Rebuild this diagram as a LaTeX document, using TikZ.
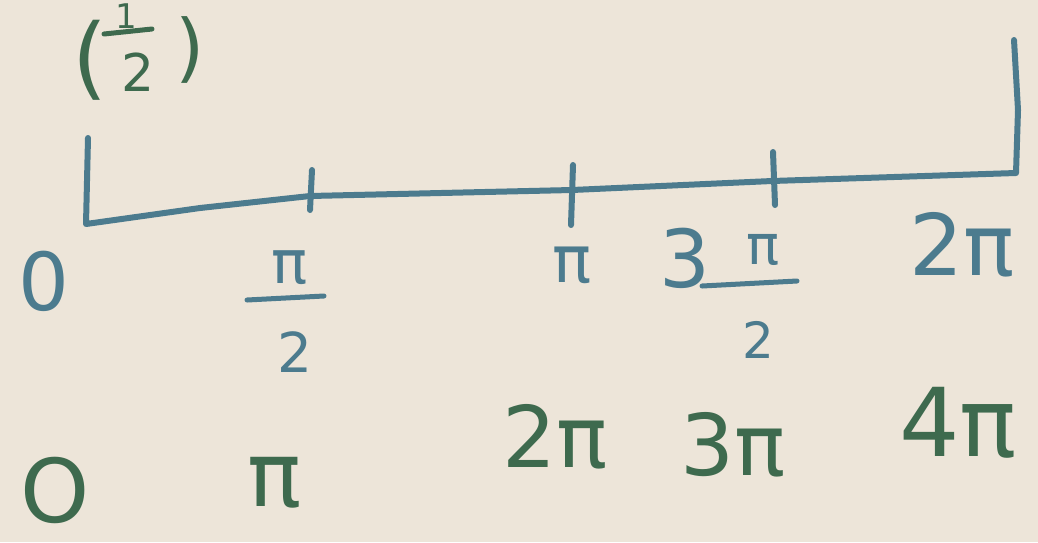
\documentclass[tikz,border=0pt]{standalone}
\usepackage{fontspec}
\setmainfont{DejaVu Sans}
\definecolor{paper}{HTML}{EDE5D9}
\definecolor{bluepen}{HTML}{4C7B8E}
\definecolor{greenpen}{HTML}{3E6A4E}
\tikzset{
  pen/.style={line width=6pt, line cap=round, line join=round},
  bl/.style={text=bluepen, inner sep=0pt},
  gr/.style={text=greenpen, inner sep=0pt},
}
\newcommand{\fs}[1]{\fontsize{#1}{#1}\selectfont}
\begin{document}
\begin{tikzpicture}[x=1pt,y=-1pt]
\fill[paper] (0,0) rectangle (1038,542);
\clip (0,0) rectangle (1038,542);
\useasboundingbox (0,0) rectangle (1038,542);
% axis with brackets
\draw[pen, bluepen] (88,138) -- (86,224) -- (200,208) -- (310,196) -- (572,190) -- (772,181) -- (1016,173) -- (1018,110) -- (1014,40);
% ticks
\draw[pen, bluepen] (312,170) -- (310,210);
\draw[pen, bluepen] (573,165) -- (571,225);
\draw[pen, bluepen] (773,152) -- (775,205);
% top-left (1/2)
\node[gr, font=\fs{90}] (lpar) at (90,60) {(};
\node[gr, font=\fs{34}] (one) at (126,16) {1};
\draw[pen, greenpen, line width=5pt] (104,34) -- (152,29);
\node[gr, font=\fs{52}] (two) at (138,72) {2};
\node[gr, font=\fs{75}] (rpar) at (190,50) {)};
% blue labels
\node[bl, font=\fs{80}] (zero) at (44,281) {0};
\node[bl, font=\fs{60}] (pihN) at (290,268) {π};
\draw[pen, bluepen, line width=5pt] (247,300) -- (324,296);
\node[bl, font=\fs{55}] (pihD) at (295,352) {2};
\node[bl, font=\fs{65}] (pi) at (572,265) {π};
\node[bl, font=\fs{80}] (three) at (685,258) {3};
\node[bl, font=\fs{55}] (tpihN) at (763,250) {π};
\draw[pen, bluepen, line width=5pt] (702,286) -- (797,281);
\node[bl, font=\fs{50}] (tpihD) at (758,340) {2};
\node[bl, font=\fs{85}] (twopi) at (962,245) {2π};
% green labels
\node[gr, font=\fs{88}] (gzero) at (55,490) {O};
\node[gr, font=\fs{90}] (gpi) at (275,483) {π};
\node[gr, font=\fs{85}] (gtwopi) at (555,437) {2π};
\node[gr, font=\fs{85}] (gthreepi) at (733,445) {3π};
\node[gr, font=\fs{95}] (gfourpi) at (958,423) {4π};
\end{tikzpicture}
\end{document}
